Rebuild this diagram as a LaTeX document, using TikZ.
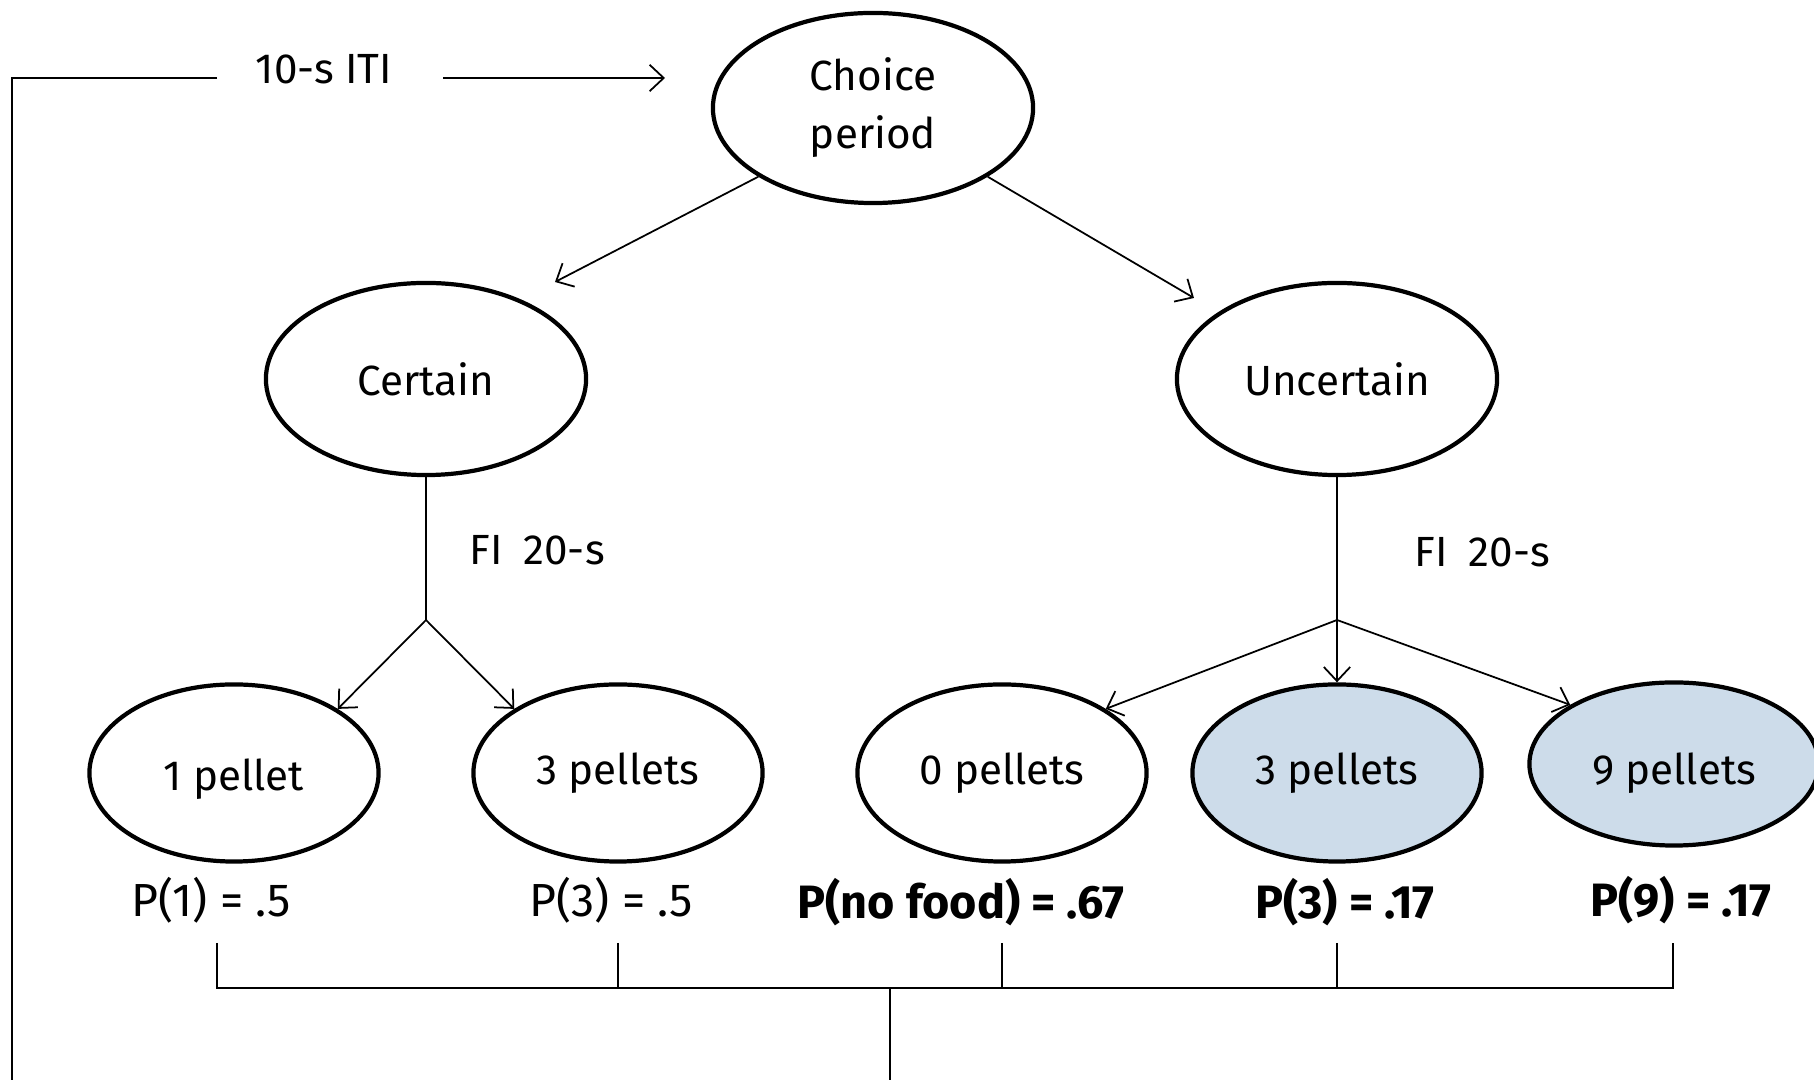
\documentclass[tikz,border=0pt]{standalone}
\usepackage{fontspec}
\setmainfont{Fira Sans}
\usetikzlibrary{shapes.geometric,arrows.meta}
\definecolor{paleblue}{RGB}{205,220,234}
\begin{document}
\begin{tikzpicture}[x=0.01cm,y=-0.01cm,
  txt/.style={font=\fontsize{12}{16.5}\selectfont,inner sep=0pt},
  ptxt/.style={font=\fontsize{13.2}{16.5}\selectfont,inner sep=0pt},
  boldtxt/.style={font=\fontsize{13.3}{16.5}\selectfont\bfseries,inner sep=0pt},
  oval/.style={ellipse,draw,line width=1.2pt,inner sep=0pt,align=center,font=\fontsize{12}{16.5}\selectfont},
  bigoval/.style={oval,minimum width=3.2cm,minimum height=1.92cm},
  smalloval/.style={oval,minimum width=2.89cm,minimum height=1.77cm},
  hilite/.style={fill=paleblue},
  conn/.style={line width=0.5pt},
  arr/.style={conn,-{Straight Barb[length=4pt,width=7.5pt]}}]
\useasboundingbox (0,0) rectangle (1814,1080);

% main ellipses
\node[bigoval,minimum height=1.9cm] (choice) at (873,108) {Choice\\period};
\node[bigoval] (certain) at (426,379) {Certain};
\node[bigoval] (uncertain) at (1337,379) {Uncertain};
\node[smalloval] (one) at (234,773) {\raisebox{-5pt}[0pt][0pt]{1 pellet}};
\node[smalloval] (threeL) at (618,773) {3 pellets};
\node[smalloval] (zero) at (1002,773) {0 pellets};
\node[smalloval,hilite] (threeR) at (1337,773) {3 pellets};
\node[smalloval,hilite,minimum height=1.63cm] (nine) at (1674,764) {\raisebox{-5.8pt}[0pt][0pt]{9 pellets}};

% labels
\node[txt] (iti) at (324,69) {10-s ITI};
\node[txt] (fiL) at (537,550) {FI\enspace 20-s};
\node[txt] (fiR) at (1482,552) {FI\enspace 20-s};
\node[ptxt] (pA) at (211,900) {P(1) = .5};
\node[ptxt] (pB) at (611,900) {P(3) = .5};
\node[boldtxt] (pC) at (961,902) {P(no food) = .67};
\node[boldtxt] (pD) at (1345,902) {P(3) = .17};
\node[boldtxt] (pE) at (1681,900) {P(9) = .17};

% ITI loop
\coordinate (loopA) at (217,78);
\coordinate (loopB) at (12,78);
\coordinate (loopC) at (12,1080);
\coordinate (itiA) at (443,78);
\coordinate (itiB) at (665,78);
\draw[conn] (loopA) -- (loopB) -- (loopC);
\draw[arr] (itiA) -- (itiB);

% choice branches
\coordinate (certTip) at (555,282);
\coordinate (uncTip) at (1194,298);
\draw[arr] (choice.south west) -- (certTip);
\draw[arr] (choice.south east) -- (uncTip);

% forks
\coordinate (forkL) at (426,620);
\coordinate (forkR) at (1337,620);
\draw[conn] (certain.south) -- (forkL);
\draw[conn] (uncertain.south) -- (forkR);
\draw[arr] (forkL) -- (one.north east);
\draw[arr] (forkL) -- (threeL.north west);
\draw[arr] (forkR) -- (zero.north east);
\draw[arr] (forkR) -- (threeR.north);
\draw[arr] (forkR) -- (nine.north west);

% bottom bracket
\coordinate (tA) at (217,943); \coordinate (bA) at (217,988);
\coordinate (tB) at (618,943); \coordinate (bB) at (618,988);
\coordinate (tC) at (1002,943); \coordinate (bC) at (1002,988);
\coordinate (tD) at (1337,943); \coordinate (bD) at (1337,988);
\coordinate (tE) at (1673,943); \coordinate (bE) at (1673,988);
\coordinate (mid) at (890,988); \coordinate (midDown) at (890,1080);
\draw[conn] (tA) -- (bA) -- (bE) -- (tE);
\draw[conn] (tB) -- (bB);
\draw[conn] (tC) -- (bC);
\draw[conn] (tD) -- (bD);
\draw[conn] (mid) -- (midDown);
\end{tikzpicture}
\end{document}
